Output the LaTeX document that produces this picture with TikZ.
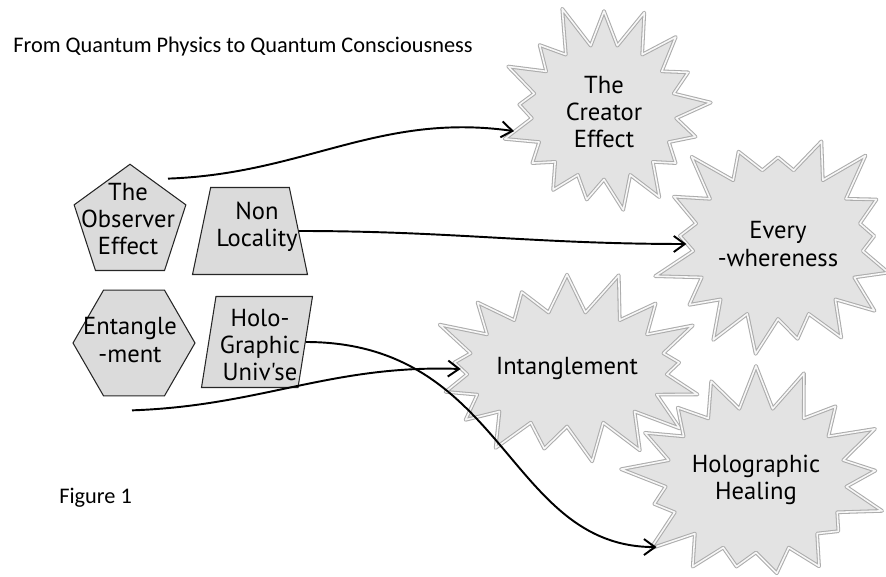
\documentclass[tikz,border=0pt]{standalone}
\usepackage{fontspec}
\setmainfont{Carlito}
\newfontfamily\handfont{PT Sans}
\usetikzlibrary{shapes.geometric,shapes.symbols,arrows.meta}

\begin{document}
\begin{tikzpicture}[
  x=0.02cm,
  y=-0.02cm,
  >={Straight Barb[length=2.2mm,width=3.2mm]},
  plate/.style={
    draw=black!85,
    fill=gray!28,
    line width=0.6pt,
    inner sep=0pt
  },
  pentabox/.style={
    plate,
    regular polygon,
    regular polygon sides=5,
    minimum size=2.35cm
  },
  hexabox/.style={
    plate,
    regular polygon,
    regular polygon sides=6,
    minimum size=2.44cm
  },
  trapbox/.style={
    plate,
    trapezium,
    trapezium stretches=true,
    inner sep=2pt
  },
  burst/.style={
    starburst,
    starburst points=17,
    starburst point height=0.9cm,
    fill=gray!22,
    draw=gray!65,
    double=gray!6,
    double distance=0.9pt,
    line width=0.6pt,
    line join=round,
    inner sep=0pt,
    align=center,
    font=\handfont\fontsize{14}{15.6}\selectfont
  },
  handtext/.style={font=\handfont\fontsize{14}{15.6}\selectfont, align=center},
  heading/.style={font=\fontsize{12.7}{15}\selectfont, anchor=west, inner sep=0pt},
  link/.style={->, draw=black, line width=1.1pt}
]
\useasboundingbox (0,0) rectangle (886,577);

% ---------------------------------------------------------------------------
% Quantum physics (left)
% ---------------------------------------------------------------------------
\node[heading] (title) at (13,47) {From Quantum Physics to Quantum Consciousness};

\node[pentabox] (obs) at (130,223) {};
\node[handtext] at (128,219) {The\\Observer\\Effect};

\node[trapbox, trapezium left angle=77, trapezium right angle=77,
  minimum width=2.3cm, minimum height=1.74cm] (nonloc) at (250,231) {};
\node[handtext] at (257,227) {Non\\Locality};

\node[hexabox] (ent) at (134,343) {};
\node[handtext] at (130,340) {Entangle\\-ment};

\node[trapbox, trapezium left angle=80, trapezium right angle=100,
  minimum width=2.22cm, minimum height=1.82cm] (holo) at (257,342) {};
\node[handtext] at (260,345) {Holo-\\Graphic\\Univ'se};

\node[heading] (fig) at (59,498) {Figure 1};

% ---------------------------------------------------------------------------
% Quantum consciousness (right)
% ---------------------------------------------------------------------------
\node[burst, random starburst=11, minimum width=4.7cm, minimum height=4.5cm]
  (creator) at (604,112) {The\\Creator\\Effect};
\node[burst, random starburst=23, minimum width=4.0cm, minimum height=4.8cm]
  (every) at (778,244) {Every\\-whereness};
\node[burst, random starburst=37, minimum width=3.8cm, minimum height=4.1cm]
  (intang) at (567,369) {Intanglement};
\node[burst, random starburst=53, minimum width=4.2cm, minimum height=4.7cm]
  (heal) at (756,480) {Holographic\\Healing};

% Links.
\draw[link] (obs.corner 1) ++(38,15) to[out=2, in=172] (creator.192);
\draw[link] (nonloc.east) to[out=0, in=180] (every.west);
\draw[link] (ent.south) ++(-2,14) to[out=2, in=178] (intang.west);
\draw[link] (holo.east) .. controls +(200,0) and +(-150,0) .. (heal.214);

\end{tikzpicture}
\end{document}
